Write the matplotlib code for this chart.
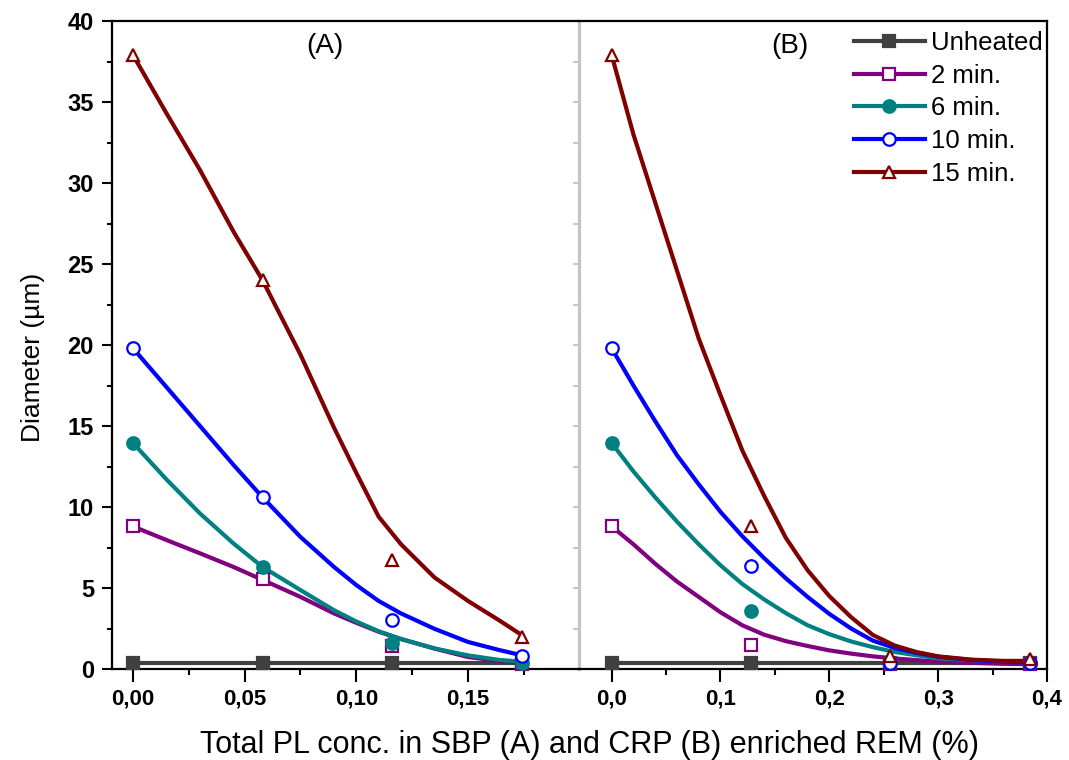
import matplotlib
matplotlib.use("Agg")
import matplotlib.pyplot as plt
from matplotlib.lines import Line2D
from matplotlib.ticker import MultipleLocator

# ---------------- data ----------------
series_names = ["Unheated", "2 min.", "6 min.", "10 min.", "15 min."]
colors = ["#404040", "#800080", "#008080", "#0000FF", "#800000"]
markers = ["s", "s", "o", "o", "^"]
filled = [True, False, True, False, False]

# Panel A (SBP) measured points
xA = [0.0, 0.058, 0.116, 0.174]
yA_unheated = [0.4, 0.4, 0.4, 0.4]
yA_2 = [8.8, 5.55, 1.4, 0.3]
yA_6 = [13.95, 6.3, 1.6, 0.4]
yA_10 = [19.8, 10.6, 3.0, 0.8]
yA_15 = [37.9, 24.0, 6.7, 2.0]

# Panel B (CRP) measured points
xB = [0.0, 0.128, 0.256, 0.384]
yB_unheated = [0.4, 0.4, 0.4, 0.4]
yB_2 = [8.8, 1.5, 0.3, 0.3]
yB_6 = [13.95, 3.6, 0.4, 0.4]
yB_10 = [19.8, 6.35, 0.4, 0.4]
yB_15 = [37.9, 8.85, 0.8, 0.6]

# Fitted curves - panel A
xA_fit = [0.0, 0.015, 0.030, 0.045, 0.058, 0.075, 0.090, 0.100, 0.110, 0.120,
          0.135, 0.150, 0.164, 0.174]
fA_unheated = [0.4] * len(xA_fit)
fA_2 = [8.8, 7.96, 7.14, 6.3, 5.5, 4.45, 3.43, 2.85, 2.3, 1.85, 1.26, 0.74, 0.5, 0.4]
fA_6 = [13.95, 11.7, 9.6, 7.75, 6.3, 4.87, 3.63, 2.93, 2.33, 1.85, 1.27, 0.84, 0.56, 0.45]
fA_10 = [19.8, 17.4, 15.0, 12.6, 10.6, 8.15, 6.3, 5.18, 4.2, 3.43, 2.48, 1.67, 1.17, 0.85]
fA_15 = [37.9, 34.3, 30.8, 27.0, 24.0, 19.4, 14.9, 12.1, 9.4, 7.7, 5.65, 4.2, 3.0, 2.1]

# Fitted curves - panel B
xB_fit = [0.0, 0.02, 0.04, 0.06, 0.08, 0.10, 0.12, 0.14, 0.16, 0.18, 0.20,
          0.22, 0.24, 0.26, 0.28, 0.30, 0.33, 0.36, 0.384]
fB_unheated = [0.4] * len(xB_fit)
fB_2 = [8.8, 7.7, 6.5, 5.4, 4.45, 3.5, 2.7, 2.12, 1.72, 1.42, 1.15,
        0.95, 0.78, 0.65, 0.55, 0.45, 0.38, 0.32, 0.3]
fB_6 = [13.95, 12.2, 10.6, 9.1, 7.7, 6.4, 5.25, 4.3, 3.45, 2.7, 2.15,
        1.7, 1.35, 1.05, 0.85, 0.66, 0.55, 0.45, 0.4]
fB_10 = [19.8, 17.5, 15.3, 13.2, 11.4, 9.7, 8.2, 6.85, 5.6, 4.45, 3.4,
         2.5, 1.75, 1.3, 1.0, 0.76, 0.56, 0.45, 0.4]
fB_15 = [37.9, 33.0, 28.8, 24.6, 20.4, 16.9, 13.5, 10.7, 8.1, 6.1, 4.5,
         3.2, 2.1, 1.45, 1.05, 0.78, 0.58, 0.5, 0.5]

xA_ticks = [0.0, 0.05, 0.10, 0.15]
xA_ticklabels = ["0,00", "0,05", "0,10", "0,15"]
xB_ticks = [0.0, 0.1, 0.2, 0.3, 0.4]
xB_ticklabels = ["0,0", "0,1", "0,2", "0,3", "0,4"]
y_ticks = [0, 5, 10, 15, 20, 25, 30, 35, 40]
y_ticklabels = ["0", "5", "10", "15", "20", "25", "30", "35", "40"]

# ---------------- figure ----------------
plt.rcParams["font.family"] = ["Liberation Sans", "DejaVu Sans"]

fig = plt.figure(figsize=(10.69, 7.60), dpi=100)
W, H = 1069, 760
left_px, mid_px, right_px = 112, 579, 1047
top_px, bot_px = 21, 669
axA = fig.add_axes([left_px / W, (H - bot_px) / H, (mid_px - left_px) / W, (bot_px - top_px) / H])
axB = fig.add_axes([mid_px / W, (H - bot_px) / H, (right_px - mid_px) / W, (bot_px - top_px) / H])
axB.patch.set_visible(False)

ptsA = [yA_unheated, yA_2, yA_6, yA_10, yA_15]
fitsA = [fA_unheated, fA_2, fA_6, fA_10, fA_15]
ptsB = [yB_unheated, yB_2, yB_6, yB_10, yB_15]
fitsB = [fB_unheated, fB_2, fB_6, fB_10, fB_15]

lw = 3.0
ms = 9
for ax, xp, xf, pts, fits in [(axA, xA, xA_fit, ptsA, fitsA), (axB, xB, xB_fit, ptsB, fitsB)]:
    for i in range(5):
        c = colors[i]
        ax.plot(xf, fits[i], color=c, lw=lw, zorder=2 + i * 0.1,
                solid_joinstyle="round")
        ax.plot(xp, pts[i], linestyle="none", marker=markers[i], ms=ms,
                mfc=c if filled[i] else "white", mec=c, mew=1.6, zorder=3 + i * 0.1,
                clip_on=False)
    ax.set_ylim(0, 40)

axA.set_xlim(-0.0094, 0.1997)
axB.set_xlim(-0.030, 0.400)

# ticks panel A
axA.set_xticks(xA_ticks)
axA.set_xticklabels(xA_ticklabels)
axA.xaxis.set_minor_locator(MultipleLocator(0.025))
axA.set_yticks(y_ticks)
axA.set_yticklabels(y_ticklabels)
axA.yaxis.set_minor_locator(MultipleLocator(2.5))
axA.tick_params(axis="x", which="major", direction="out", length=9, width=1.5, pad=5)
axA.tick_params(axis="x", which="minor", direction="out", length=4, width=1.5)
axA.tick_params(axis="y", which="major", direction="out", length=7, width=1.5, pad=6)
axA.tick_params(axis="y", which="minor", direction="out", length=3.5, width=1.5)
axA.tick_params(axis="y", which="both", right=False)

# grey separator with inward ticks (right side of panel A)
sec = axA.secondary_yaxis("right")
sec.set_yticks(y_ticks)
sec.yaxis.set_minor_locator(MultipleLocator(2.5))
sec.tick_params(axis="y", which="both", direction="in", length=4.5, width=1.5,
                color="#c8c8c8", labelright=False)
sec.spines["right"].set_visible(False)

# ticks panel B
axB.set_xticks(xB_ticks)
axB.set_xticklabels(xB_ticklabels)
axB.xaxis.set_minor_locator(MultipleLocator(0.05))
axB.tick_params(axis="x", which="major", direction="out", length=9, width=1.5, pad=5)
axB.tick_params(axis="x", which="minor", direction="out", length=4, width=1.5)
axB.tick_params(axis="y", which="both", left=False, labelleft=False, right=False)
axB.spines["left"].set_visible(False)

for ax in (axA, axB):
    for lab in ax.get_xticklabels():
        lab.set_fontsize(16)
        lab.set_fontweight("bold")
    for lab in ax.get_yticklabels():
        lab.set_fontsize(17)
        lab.set_fontweight("bold")
    for name, s in ax.spines.items():
        s.set_linewidth(1.6)
        s.set_color("black")

axA.spines["right"].set_color("#c4c4c4")
axA.spines["right"].set_linewidth(2.3)

# panel labels
axA.text(0.456, 0.982, "(A)", transform=axA.transAxes, ha="center", va="top", fontsize=20)
axB.text(0.451, 0.982, "(B)", transform=axB.transAxes, ha="center", va="top", fontsize=20)

# axis labels
axA.set_ylabel("Diameter (\u00b5m)", fontsize=19)
axA.yaxis.set_label_coords(-0.144, 0.481)
fig.text(590 / W, 1 - 745 / H, "Total PL conc. in SBP (A) and CRP (B) enriched REM (%)",
         ha="center", va="center", fontsize=22)

# legend
handles = [Line2D([0], [0], color=colors[i], lw=lw, marker=markers[i], ms=ms,
                  mfc=colors[i] if filled[i] else "white", mec=colors[i], mew=1.6)
           for i in range(5)]
fig.legend(handles, series_names, loc="upper right",
           bbox_to_anchor=(1043 / W, 1 - 31 / H), bbox_transform=fig.transFigure,
           frameon=False, fontsize=18.5, handlelength=2.75, handletextpad=0.25,
           labelspacing=0.34, borderaxespad=0, borderpad=0)

fig.savefig("out.png", dpi=100)
